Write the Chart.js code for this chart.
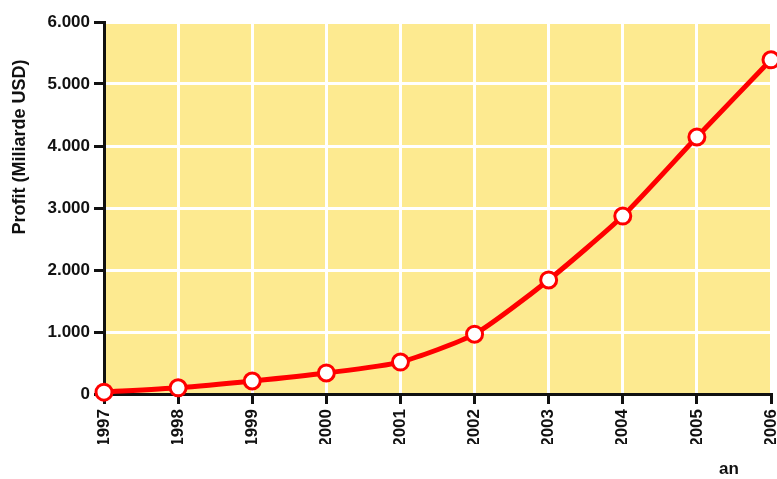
<!DOCTYPE html>
<html>
<head>
<meta charset="utf-8">
<script src="https://cdn.jsdelivr.net/npm/chart.js@4/dist/chart.umd.min.js"></script>
<style>
  html, body { margin: 0; padding: 0; background: #fff; }
  #wrap { width: 777px; height: 479px; }
</style>
</head>
<body>
<div id="wrap"><canvas id="profit-chart"></canvas></div>
<script>
// values
const years = ["1997", "1998", "1999", "2000", "2001", "2002", "2003", "2004", "2005", "2006"];
const profit = [30, 100, 210, 340, 515, 965, 1840, 2870, 4145, 5390];
const yTicks = [0, 1000, 2000, 3000, 4000, 5000, 6000];
const yTitle = "Profit (Miliarde USD)";
const xTitle = "an";

const font = "'Liberation Sans', Arial, sans-serif";

// yellow plot background + axis titles
const decor = {
  id: 'decor',
  beforeDraw(chart) {
    const { ctx, chartArea: a } = chart;
    ctx.save();
    ctx.fillStyle = '#fdea90';
    ctx.fillRect(a.left, a.top, a.right - a.left, a.bottom - a.top);
    ctx.restore();
  },
  afterDraw(chart) {
    const ctx = chart.ctx;
    ctx.save();
    ctx.fillStyle = '#111';
    ctx.font = "bold 18px " + font;
    ctx.textAlign = 'center';
    ctx.textBaseline = 'middle';
    ctx.translate(20, 147);
    ctx.rotate(-Math.PI / 2);
    ctx.fillText(yTitle, 0, 0);
    ctx.restore();

    ctx.save();
    ctx.fillStyle = '#111';
    ctx.font = "bold 17px " + font;
    ctx.textAlign = 'center';
    ctx.textBaseline = 'middle';
    ctx.fillText(xTitle, 729, 469);
    ctx.restore();
  }
};

new Chart(document.getElementById("profit-chart"), {
  type: 'line',
  data: {
    labels: years,
    datasets: [{
      data: profit,
      borderColor: '#ff0000',
      borderWidth: 5,
      tension: 0.2,
      pointRadius: 8,
      pointBorderWidth: 3,
      pointBackgroundColor: '#ffffff',
      pointBorderColor: '#ff0000',
      clip: false
    }]
  },
  options: {
    responsive: true,
    maintainAspectRatio: false,
    animation: false,
    layout: { autoPadding: false, padding: { top: 22, right: 6, bottom: 35, left: 0 } },
    plugins: { legend: { display: false }, tooltip: { enabled: false } },
    scales: {
      x: {
        offset: false,
        grid: { color: '#ffffff', lineWidth: 3, tickColor: '#111', tickWidth: 3, tickLength: 10 },
        border: { color: '#111', width: 3 },
        ticks: {
          color: '#111', font: { family: font, size: 17, weight: 'bold' },
          minRotation: 90, maxRotation: 90, padding: 5
        },
        afterFit(scale) { scale.height = 50; scale.paddingRight = 0; scale.paddingLeft = 0; }
      },
      y: {
        min: 0, max: 6000,
        afterBuildTicks(scale) { scale.ticks = yTicks.map(v => ({ value: v })); },
        grid: { color: '#ffffff', lineWidth: 3, tickColor: '#111', tickWidth: 3, tickLength: 10 },
        border: { color: '#111', width: 3 },
        ticks: {
          color: '#111', font: { family: font, size: 17, weight: 'bold' }, padding: 4,
          callback: v => v === 0 ? '0' : (v / 1000) + '.000'
        },
        afterFit(scale) { scale.width = 104; scale.paddingTop = 0; scale.paddingBottom = 0; }
      }
    }
  },
  plugins: [decor]
});
</script>
</body>
</html>
